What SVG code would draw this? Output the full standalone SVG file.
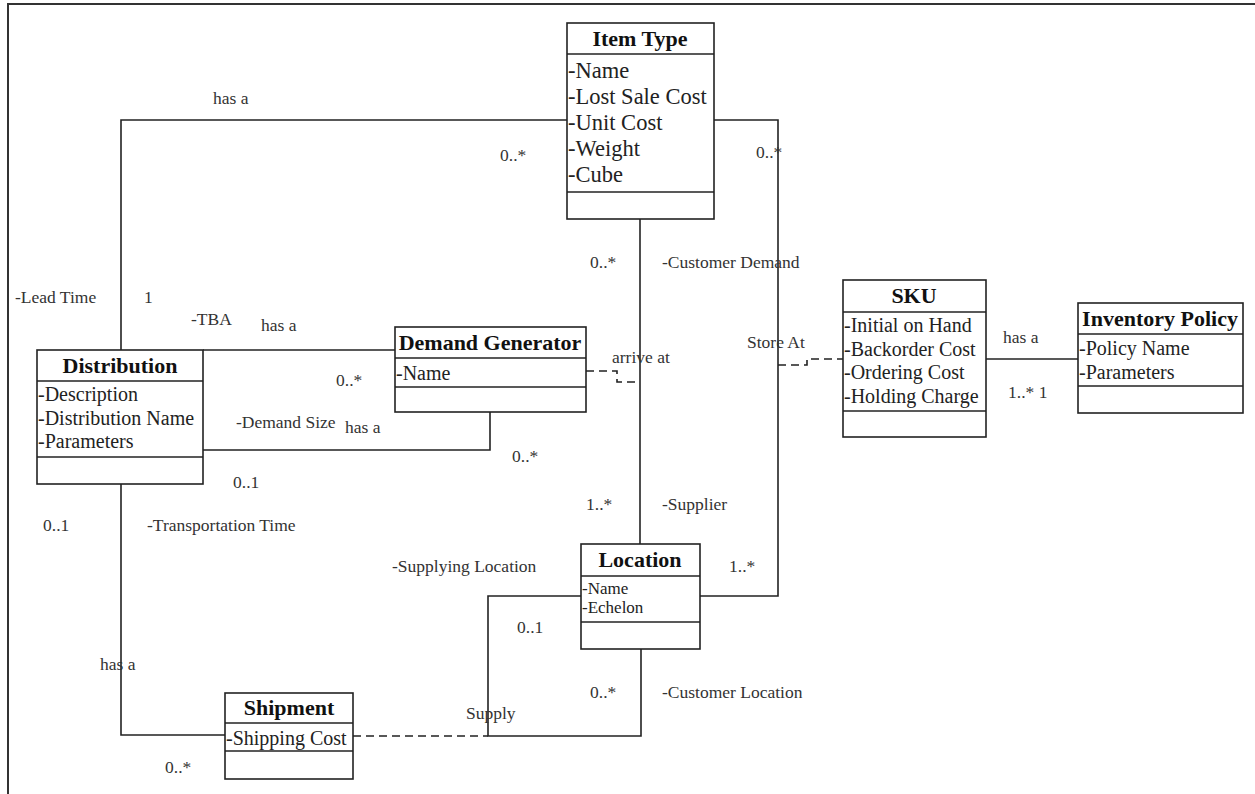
<svg xmlns="http://www.w3.org/2000/svg" width="1255" height="794" viewBox="0 0 1255 794">
<style>
.box{fill:#fff;stroke:#222;stroke-width:1.6}
.sep{stroke:#222;stroke-width:1.4}
.title{font-family:"Liberation Serif","Times New Roman",serif;font-weight:bold;font-size:22px;fill:#111;text-anchor:middle}
.attr{font-family:"Liberation Serif","Times New Roman",serif;font-size:20px;fill:#222}
.attr-l{font-family:"Liberation Serif","Times New Roman",serif;font-size:22.5px;fill:#222}
.attr-s{font-family:"Liberation Serif","Times New Roman",serif;font-size:17px;fill:#222}
.lbl{font-family:"Liberation Serif","Times New Roman",serif;font-size:17.5px;fill:#333}
.conn{fill:none;stroke:#222;stroke-width:1.6}
.dash{fill:none;stroke:#222;stroke-width:1.6;stroke-dasharray:8 5}
</style>
<rect x="0" y="0" width="1255" height="794" fill="#fff"/>
<path d="M8,794 V4 H1255" fill="none" stroke="#333" stroke-width="2"/>
<g id="connectors">
<polyline class="conn" points="567,120 121,120 121,350"/>
<line class="conn" x1="203" y1="350" x2="395" y2="350"/>
<polyline class="conn" points="203,450 490,450 490,412"/>
<polyline class="dash" points="586,371 617,371 617,382 640,382"/>
<line class="conn" x1="640" y1="219" x2="640" y2="544"/>
<polyline class="conn" points="714,120 778,120 778,596 700,596"/>
<polyline class="dash" points="778,365 807,365 807,359 843,359"/>
<line class="conn" x1="986" y1="359" x2="1078" y2="359"/>
<polyline class="conn" points="581,596 488,596 488,736 641,736 641,649"/>
<line class="dash" x1="353" y1="736" x2="488" y2="736"/>
<polyline class="conn" points="121,484 121,735 225,735"/>
</g>
<g id="labels">
<text class="lbl" x="213" y="104">has a</text>
<text class="lbl" x="500" y="161">0..*</text>
<text class="lbl" x="756" y="158">0..*</text>
<text class="lbl" x="590" y="268">0..*</text>
<text class="lbl" x="662" y="268">-Customer Demand</text>
<text class="lbl" x="15" y="303">-Lead Time</text>
<text class="lbl" x="144" y="303">1</text>
<text class="lbl" x="191" y="325">-TBA</text>
<text class="lbl" x="261" y="331">has a</text>
<text class="lbl" x="612" y="363">arrive at</text>
<text class="lbl" x="747" y="348">Store At</text>
<text class="lbl" x="1003" y="343">has a</text>
<text class="lbl" x="336" y="386">0..*</text>
<text class="lbl" x="236" y="428">-Demand Size</text>
<text class="lbl" x="345" y="433">has a</text>
<text class="lbl" x="1008" y="398">1..*  1</text>
<text class="lbl" x="512" y="462">0..*</text>
<text class="lbl" x="233" y="488">0..1</text>
<text class="lbl" x="586" y="510">1..*</text>
<text class="lbl" x="662" y="510">-Supplier</text>
<text class="lbl" x="43" y="531">0..1</text>
<text class="lbl" x="147" y="531">-Transportation Time</text>
<text class="lbl" x="392" y="572">-Supplying Location</text>
<text class="lbl" x="729" y="572">1..*</text>
<text class="lbl" x="517" y="633">0..1</text>
<text class="lbl" x="100" y="670">has a</text>
<text class="lbl" x="590" y="698">0..*</text>
<text class="lbl" x="662" y="698">-Customer Location</text>
<text class="lbl" x="466" y="719">Supply</text>
<text class="lbl" x="165" y="773">0..*</text>
</g>
<g id="item-type">
<rect class="box" x="567" y="23" width="147" height="196"/>
<line class="sep" x1="567" y1="54" x2="714" y2="54"/>
<line class="sep" x1="567" y1="192" x2="714" y2="192"/>
<text class="title" x="640" y="46">Item Type</text>
<text class="attr-l" x="568" y="78">-Name</text>
<text class="attr-l" x="568" y="104">-Lost Sale Cost</text>
<text class="attr-l" x="568" y="130">-Unit Cost</text>
<text class="attr-l" x="568" y="156">-Weight</text>
<text class="attr-l" x="568" y="182">-Cube</text>
</g>
<g id="distribution">
<rect class="box" x="37" y="350" width="166" height="134"/>
<line class="sep" x1="37" y1="381" x2="203" y2="381"/>
<line class="sep" x1="37" y1="457" x2="203" y2="457"/>
<text class="title" x="120" y="373">Distribution</text>
<text class="attr" x="38" y="401">-Description</text>
<text class="attr" x="38" y="425">-Distribution Name</text>
<text class="attr" x="38" y="448">-Parameters</text>
</g>
<g id="demand-generator">
<rect class="box" x="395" y="327" width="191" height="85"/>
<line class="sep" x1="395" y1="358" x2="586" y2="358"/>
<line class="sep" x1="395" y1="387" x2="586" y2="387"/>
<text class="title" x="490" y="350">Demand Generator</text>
<text class="attr" x="396" y="380">-Name</text>
</g>
<g id="sku">
<rect class="box" x="843" y="280" width="143" height="157"/>
<line class="sep" x1="843" y1="312" x2="986" y2="312"/>
<line class="sep" x1="843" y1="411" x2="986" y2="411"/>
<text class="title" x="914" y="303">SKU</text>
<text class="attr" x="844" y="332">-Initial on Hand</text>
<text class="attr" x="844" y="356">-Backorder Cost</text>
<text class="attr" x="844" y="379">-Ordering Cost</text>
<text class="attr" x="844" y="403">-Holding Charge</text>
</g>
<g id="inventory-policy">
<rect class="box" x="1078" y="303" width="165" height="110"/>
<line class="sep" x1="1078" y1="334" x2="1243" y2="334"/>
<line class="sep" x1="1078" y1="386" x2="1243" y2="386"/>
<text class="title" x="1160" y="326">Inventory Policy</text>
<text class="attr" x="1079" y="355">-Policy Name</text>
<text class="attr" x="1079" y="379">-Parameters</text>
</g>
<g id="location">
<rect class="box" x="581" y="544" width="119" height="105"/>
<line class="sep" x1="581" y1="576" x2="700" y2="576"/>
<line class="sep" x1="581" y1="622" x2="700" y2="622"/>
<text class="title" x="640" y="567">Location</text>
<text class="attr-s" x="582" y="594">-Name</text>
<text class="attr-s" x="582" y="613">-Echelon</text>
</g>
<g id="shipment">
<rect class="box" x="225" y="693" width="128" height="86"/>
<line class="sep" x1="225" y1="723" x2="353" y2="723"/>
<line class="sep" x1="225" y1="751" x2="353" y2="751"/>
<text class="title" x="289" y="715">Shipment</text>
<text class="attr" x="226" y="745">-Shipping Cost</text>
</g>
</svg>
